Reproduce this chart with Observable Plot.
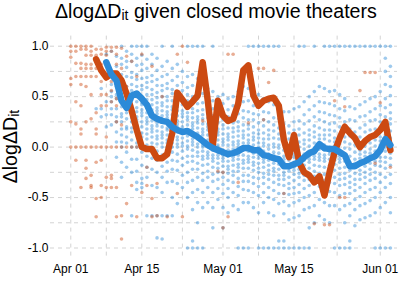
<!DOCTYPE html>
<html><head><meta charset="utf-8">
<script src="https://cdn.jsdelivr.net/npm/d3@7"></script>
<script src="https://cdn.jsdelivr.net/npm/@observablehq/plot@0.6"></script>
<style>
body{margin:0;background:#fff;font-family:"Liberation Sans",Arial,sans-serif;}
#wrap{width:401px;height:301px;position:relative;overflow:hidden;background:#fff;}
#title{height:30px;line-height:23px;font-size:19.6px;padding-left:55px;white-space:nowrap;color:#000;}
#title sub{font-size:14px;vertical-align:baseline;position:relative;top:2px;}
</style></head><body>
<div id="wrap"><div id="title">ΔlogΔD<sub>it</sub> given closed movie theaters</div><div id="chart"></div></div>
<script>
// ---- data (days counted from 2020-04-01; values in hundredths) ----
const bluePoints = [
"5: 87 38",
"6: 78 58 38 30",
"7: 92 70 45 32 20",
"8: 95 62 55 50 45 38 32 22",
"9: 90 80 68 60 52 48 38 30 25 15 5 -10",
"10: 100 88 82 72 63 58 50 48 40 33 30 25 18 12 5 0 -15 -30",
"11: 95 85 79 70 60 55 52 45 38 34 28 20 18 10 4 -5 -20",
"12: 100 92 85 74 69 62 56 50 47 41 38 35 29 25 19 15 7 0 -12 -25 -68",
"13: 100 88 81 72 67 60 53 50 45 39 35 30 27 22 17 12 4 0 -12 -24 -35 -42",
"14: 100 91 82 76 68 61 57 50 44 42 37 34 31 25 20 14 10 4 -5 -18 -31 -36 -40",
"15: 100 87 78 69 64 59 52 47 42 39 34 29 26 23 18 13 8 2 -9 -20 -30 -68",
"16: 92 82 71 65 57 52 47 42 37 34 31 26 21 18 15 10 4 0 -11 -22 -38 -68",
"17: 88 76 67 61 54 49 44 39 36 33 27 24 21 16 11 8 3 -4 -13 -25 -40 -68 -90",
"18: 100 80 70 61 56 50 44 41 36 31 28 25 20 15 12 9 4 0 -8 -19 -30 -45 -68 -91",
"19: 85 72 63 58 50 46 40 35 32 29 24 19 17 12 7 4 0 -6 -15 -24 -35 -68",
"20: 100 78 66 57 53 46 40 37 32 27 24 21 16 11 8 4 0 -5 -13 -22 -34 -50 -68",
"21: 82 70 61 52 45 40 36 31 26 23 20 15 10 7 3 0 -7 -14 -23 -36 -56",
"22: 75 64 56 49 42 36 33 30 25 20 17 14 9 4 1 -4 -11 -18 -28 -40",
"23: 100 70 59 52 46 40 34 30 27 22 17 14 11 6 1 -2 -9 -15 -25 -35 -50 -100",
"24: 100 72 61 50 43 38 34 29 24 21 18 13 8 5 2 -3 -9 -14 -22 -33 -45 -62 -93 -100",
"25: 100 68 55 48 43 36 30 27 24 19 14 11 8 3 0 -5 -9 -16 -22 -30 -42 -55 -75 -100",
"26: 100 62 53 44 37 32 28 23 18 15 12 7 2 0 -4 -9 -12 -18 -26 -33 -45 -60 -100",
"27: 58 47 40 35 29 23 20 17 12 7 4 0 -5 -8 -11 -17 -24 -30 -40 -55",
"28: 100 55 46 38 31 26 22 17 12 9 6 1 -3 -8 -11 -14 -20 -27 -34 -45 -60 -80",
"29: 50 41 35 30 24 18 15 12 7 2 0 -5 -8 -11 -16 -21 -25 -32 -41 -52",
"30: 52 43 34 27 22 18 13 8 5 2 -3 -8 -11 -14 -19 -25 -30 -37 -46 -60 -80",
"31: 48 37 30 25 19 13 10 7 2 -3 -6 -9 -14 -19 -22 -26 -33 -41 -50 -65",
"32: 50 41 32 24 19 15 10 5 2 -2 -7 -10 -13 -18 -24 -28 -35 -45 -58",
"33: 55 43 33 25 20 16 11 6 3 0 -5 -8 -12 -17 -20 -24 -31 -39 -48 -62 -100",
"34: 60 45 36 29 22 16 12 9 4 0 -3 -8 -13 -16 -21 -28 -34 -42 -55 -100",
"35: 100 58 46 35 27 22 18 12 7 4 1 -4 -9 -12 -15 -21 -28 -34 -43 -55 -100",
"36: 100 55 41 33 27 20 14 10 7 2 -3 -6 -10 -15 -18 -23 -30 -36 -45 -60",
"37: 100 52 40 32 24 17 13 9 4 0 -5 -8 -11 -16 -21 -25 -31 -39 -48 -65 -100",
"38: 100 48 35 27 21 14 8 4 1 -4 -9 -12 -15 -20 -26 -30 -36 -45 -55 -100",
"39: 100 45 34 25 17 12 8 2 -2 -7 -10 -13 -18 -23 -27 -32 -40 -50 -65 -100",
"40: 100 42 29 22 16 9 3 0 -5 -8 -11 -16 -21 -24 -28 -35 -43 -52 -68 -100",
"41: 100 40 28 19 13 8 2 -1 -6 -11 -14 -17 -22 -28 -32 -37 -46 -56 -93 -100",
"42: 35 23 14 6 2 -3 -9 -12 -15 -20 -25 -28 -32 -38 -46 -54 -66 -93 -100",
"43: 35 21 14 8 1 -4 -8 -13 -18 -21 -24 -30 -36 -41 -47 -58 -72 -100",
"44: 38 25 17 9 3 -3 -7 -10 -15 -20 -23 -27 -33 -40 -46 -55 -70 -100",
"45: 100 40 26 18 12 5 0 -6 -9 -12 -17 -22 -26 -30 -37 -45 -53 -68 -100",
"46: 100 45 32 23 14 7 3 -2 -7 -10 -13 -18 -24 -28 -33 -41 -50 -62 -100",
"47: 50 37 26 17 12 7 1 -4 -9 -12 -15 -21 -27 -32 -38 -48 -60 -80 -100",
"48: 100 55 41 30 21 15 10 4 -1 -6 -9 -12 -18 -24 -29 -35 -45 -58 -75",
"49: 60 45 35 27 19 12 8 4 -2 -7 -10 -13 -19 -26 -32 -39 -52 -68",
"50: 100 58 44 34 25 17 12 8 2 -3 -8 -11 -14 -20 -27 -33 -42 -55 -72",
"51: 100 55 43 32 23 17 12 6 0 -4 -7 -12 -18 -22 -27 -35 -44 -58 -75",
"52: 100 56 41 31 24 16 9 5 1 -5 -10 -13 -17 -23 -30 -36 -45 -58 -100",
"53: 100 52 38 29 20 12 7 3 -3 -9 -12 -15 -21 -27 -32 -38 -48 -62 -100",
"54: 100 48 36 25 16 10 5 -1 -7 -11 -14 -20 -26 -31 -37 -46 -58 -75 -100",
"55: 100 40 27 18 11 3 -2 -9 -15 -19 -23 -29 -35 -40 -46 -56 -68 -93 -100",
"56: 100 38 26 15 8 2 -5 -12 -16 -20 -26 -32 -37 -43 -52 -62 -78",
"57: 100 42 30 19 10 4 -3 -7 -11 -17 -23 -27 -32 -40 -49 -58 -72",
"58: 100 45 31 22 15 7 1 -5 -9 -13 -19 -25 -30 -36 -45 -56 -70",
"59: 100 48 35 26 17 9 4 -2 -6 -10 -16 -22 -27 -33 -42 -53 -68",
"60: 100 50 38 27 18 12 7 1 -4 -10 -14 -18 -25 -31 -40 -50 -65 -100",
"61: 100 55 41 32 25 17 10 6 2 -4 -10 -14 -19 -27 -35 -45 -60 -100",
"62: 100 88 75 62 48 39 30 22 17 12 6 0 -4 -10 -15 -21 -30 -40 -55 -100",
"63: 100 80 70 60 51 42 34 28 23 16 9 5 0 -6 -11 -18 -27 -36 -50 -65 -100"
];
const orangePoints = [
"0: 100 95 89 68 62 25 0",
"1: 100 95 83 70 45 23 0 -13",
"2: 100 97 83 78 70 62 41 18 13 0 -40",
"3: 100 97 91 82 78 70 60 25 0 -21 -13 -31",
"4: 100 95 91 82 78 70 52 28 0 -38 -40 -28",
"5: 97 91 87 78 70 34 18 13 0 -15 -51 -69",
"6: 97 92 82 78 65 52 41 0 -38 -50 -13",
"7: 99 95 91 52 41 10 0 -30 -40",
"8: 99 95 72 65 56 45 0 -28 -40 -31",
"9: 99 92 82 68 48 41 25 0 -69 -40",
"10: 98 78 22 0 -68 -91",
"11: 90 60 0 -56",
"12: 85 0 -38",
"13: 70 0 -69",
"14: 92 -45",
"15: -20 -38",
"16: 80 -51 -69",
"17: -36 -68",
"18: 50",
"19: -69",
"21: 92 -46",
"22: 100 -69",
"23: 84",
"26: 26",
"29: -24",
"30: -25 -80",
"31: 92 -69",
"32: 92",
"33: -35",
"35: 24",
"37: 78",
"38: 78 27",
"39: 64",
"40: 76",
"42: -46",
"48: -76",
"50: -77",
"51: -77",
"52: 46",
"53: -50",
"54: 40 22 -50",
"57: 56",
"58: 74",
"59: 74",
"60: 74 -16",
"61: 44",
"63: -20"
];
const blueLineStart = 7;
const blueLine = [0.84,0.72,0.66,0.46,0.39,0.51,0.53,0.48,0.42,0.31,0.28,0.26,0.25,0.2,0.17,0.15,0.16,0.13,0.1,0.06,0.02,-0.01,-0.03,-0.05,-0.07,-0.06,-0.04,-0.01,-0.01,-0.03,-0.03,-0.08,-0.09,-0.11,-0.12,-0.19,-0.19,-0.17,-0.15,-0.10,-0.06,-0.04,0.03,-0.01,-0.02,-0.02,-0.05,-0.08,-0.19,-0.19,-0.16,-0.14,-0.11,-0.09,-0.03,0.08,0.02];
const orangeLineStart = 5;
const orangeLine = [0.87,0.76,0.69,0.73,0.73,0.66,0.53,0.36,0.17,0.0,-0.02,-0.02,-0.11,-0.11,-0.07,0.14,0.54,0.47,0.40,0.45,0.51,0.84,0.46,0.02,0.46,0.31,0.26,0.28,0.43,0.76,0.81,0.51,0.41,0.46,0.48,0.49,0.41,0.07,-0.10,0.12,-0.15,-0.25,-0.28,-0.35,-0.29,-0.48,-0.25,-0.05,0.09,0.20,0.14,0.09,0.00,0.06,0.10,0.12,0.17,0.25,-0.03];
const xTicks = ["2020-04-01","2020-04-15","2020-05-01","2020-05-15","2020-06-01"];
const xGrid = ["2020-04-01","2020-04-08","2020-04-15","2020-04-23","2020-05-01","2020-05-08","2020-05-15","2020-05-23T12:00","2020-06-01"];
const yTicks = [-1,-0.5,0,0.5,1];
const yGrid = [-1,-0.75,-0.5,-0.25,0,0.25,0.5,0.75,1];
const blueCol = "#2b8ad8", orangeCol = "#cc4a12";

// ---- build tables ----
const base = Date.UTC(2020,3,1);
const dayDate = d => new Date(base + d*864e5);
const parsePts = arr => arr.flatMap(s => {
  const [d, vals] = s.split(":");
  return vals.trim().split(/\s+/).map(v => ({date: dayDate(+d), v: +v/100}));
});
const blueP = parsePts(bluePoints), orangeP = parsePts(orangePoints);
const blueL = blueLine.map((v,i) => ({date: dayDate(blueLineStart+i), v}));
const orangeL = orangeLine.map((v,i) => ({date: dayDate(orangeLineStart+i), v}));
const iso = s => new Date(s.length > 10 ? s + "Z" : s);

const H = 271, mT = 5.6, mB = 43.4;
const plot = Plot.plot({
  width: 401, height: H,
  marginLeft: 50, marginRight: 4, marginTop: mT, marginBottom: mB,
  style: {fontFamily: "'Liberation Sans', Arial, sans-serif", fontSize: "12px", color: "#000", background: "#fff"},
  x: {type: "utc", domain: [new Date(Date.UTC(2020,2,28)), new Date(Date.UTC(2020,5,4,9,36))]},
  y: {domain: [-1.1, 1.1]},
  marks: [
    Plot.ruleY(yGrid, {stroke: "#d3d3d3", strokeDasharray: "4,4", strokeWidth: 1}),
    Plot.ruleX(xGrid.map(iso), {stroke: "#d3d3d3", strokeDasharray: "4,4", strokeWidth: 1}),
    Plot.dot(blueP, {x: "date", y: "v", r: 1.8, fill: blueCol, fillOpacity: 0.45, stroke: null}),
    Plot.dot(orangeP, {x: "date", y: "v", r: 1.8, fill: orangeCol, fillOpacity: 0.45, stroke: null}),
    Plot.line(orangeL, {x: "date", y: "v", stroke: orangeCol, strokeWidth: 6.5, strokeLinejoin: "round"}),
    Plot.line(blueL, {x: "date", y: "v", stroke: blueCol, strokeWidth: 6.5, strokeLinejoin: "round"}),
    Plot.axisX({ticks: xTicks.map(iso), tickFormat: d3.utcFormat("%b %d"), tickSize: 0, tickPadding: 6, label: null, fill: "#000"}),
    Plot.axisY({ticks: yTicks, tickFormat: d => d.toFixed(1), tickSize: 0, tickPadding: 2, label: null, fill: "#000"})
  ]
});
document.getElementById("chart").appendChild(plot);
const s = d3.select(plot);
const t = s.append("text")
  .attr("transform", `translate(16.5,${(mT + (H - mB)) / 2}) rotate(-90)`)
  .attr("text-anchor", "middle").attr("font-size", 19.6).attr("fill", "#000")
  .attr("font-family", "'Liberation Sans', Arial, sans-serif");
t.append("tspan").text("ΔlogΔD");
t.append("tspan").attr("font-size", 14).attr("dy", 2).text("it");
</script>
</body></html>
